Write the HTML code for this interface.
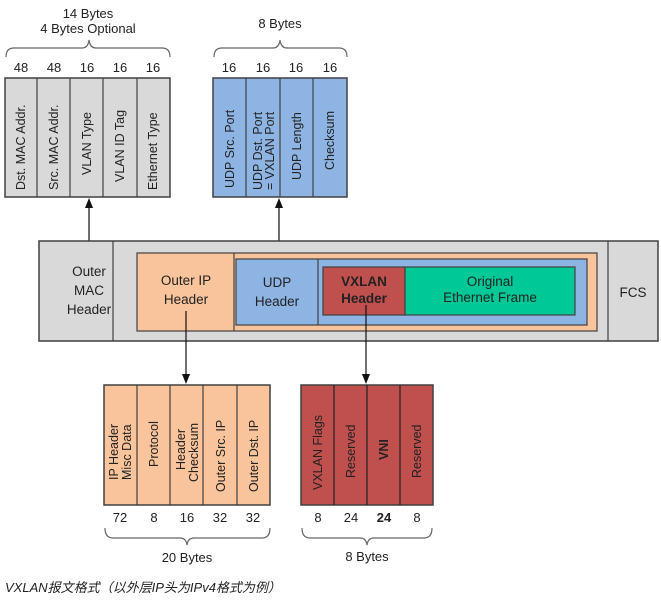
<!DOCTYPE html>
<html><head><meta charset="utf-8"><style>
body{margin:0;background:#fff}
svg{display:block;font-family:"Liberation Sans","Noto Sans CJK SC",sans-serif}
text{fill:#222}
</style></head><body>
<svg width="661" height="600" viewBox="0 0 661 600">

<!-- Top left MAC -->
<g>
<text x="88" y="18" text-anchor="middle" font-size="13">14 Bytes</text>
<text x="88" y="33" text-anchor="middle" font-size="13">4 Bytes Optional</text>
<path d="M6,57 Q6,48 14,48 L82,48 Q88,48 89,40 Q90,48 96,48 L162,48 Q170,48 170,57" fill="none" stroke="#666" stroke-width="1.2"/>
<rect x="5" y="78" width="165" height="119" fill="#d9d9d9" stroke="#404040" stroke-width="1.5"/>
<g stroke="#404040" stroke-width="1.2"><line x1="37" y1="78" x2="37" y2="197"/><line x1="70" y1="78" x2="70" y2="197"/><line x1="103" y1="78" x2="103" y2="197"/><line x1="137" y1="78" x2="137" y2="197"/></g>
<g font-size="13" text-anchor="middle">
<text x="21" y="72">48</text><text x="54" y="72">48</text><text x="87" y="72">16</text><text x="120" y="72">16</text><text x="153" y="72">16</text>
</g>
<g font-size="12.5">
<text transform="translate(25,190) rotate(-90)">Dst. MAC Addr.</text>
<text transform="translate(58,190) rotate(-90)">Src. MAC Addr.</text>
<text transform="translate(91,175) rotate(-90)">VLAN Type</text>
<text transform="translate(124,182) rotate(-90)">VLAN ID Tag</text>
<text transform="translate(157,190) rotate(-90)">Ethernet Type</text>
</g>
</g>

<!-- UDP fields -->
<g>
<text x="280" y="28" text-anchor="middle" font-size="13">8 Bytes</text>
<path d="M214,57 Q214,48 222,48 L273,48 Q279,48 280,40 Q281,48 287,48 L339,48 Q347,48 347,57" fill="none" stroke="#666" stroke-width="1.2"/>
<rect x="213" y="78" width="134" height="119" fill="#8eb4e3" stroke="#404040" stroke-width="1.5"/>
<g stroke="#404040" stroke-width="1.2"><line x1="246" y1="78" x2="246" y2="197"/><line x1="280" y1="78" x2="280" y2="197"/><line x1="313" y1="78" x2="313" y2="197"/></g>
<g font-size="13" text-anchor="middle">
<text x="229" y="72">16</text><text x="263" y="72">16</text><text x="296" y="72">16</text><text x="330" y="72">16</text>
</g>
<g font-size="12.5">
<text transform="translate(234,188) rotate(-90)">UDP Src. Port</text>
<text transform="translate(262,190) rotate(-90)">UDP Dst. Port</text>
<text transform="translate(274,190) rotate(-90)">= VXLAN Port</text>
<text transform="translate(301,180) rotate(-90)">UDP Length</text>
<text transform="translate(334,170) rotate(-90)">Checksum</text>
</g>
</g>

<!-- arrows up -->
<g>
<line x1="89" y1="241" x2="89" y2="206" stroke="#111" stroke-width="1.2"/>
<polygon points="89,198 85,208 93,208" fill="#111"/>
</g>
<g>
<line x1="279" y1="262" x2="279" y2="206" stroke="#111" stroke-width="1.2"/>
<polygon points="279,198 275,208 283,208" fill="#111"/>
</g>

<!-- Main frame -->
<g>
<rect x="39" y="241" width="619" height="100" fill="#d9d9d9" stroke="#404040" stroke-width="1.5"/>
<line x1="113" y1="241" x2="113" y2="341" stroke="#404040" stroke-width="1.2"/>
<line x1="608" y1="241" x2="608" y2="341" stroke="#404040" stroke-width="1.2"/>
<text x="89" y="276" text-anchor="middle" font-size="13.5">Outer</text>
<text x="89" y="295" text-anchor="middle" font-size="13.5">MAC</text>
<text x="89" y="314" text-anchor="middle" font-size="13.5">Header</text>
<text x="633" y="297" text-anchor="middle" font-size="13.5">FCS</text>
<rect x="137" y="253" width="460" height="78" fill="#f9c39b" stroke="#404040" stroke-width="1.2"/>
<line x1="234" y1="253" x2="234" y2="331" stroke="#404040" stroke-width="1.2"/>
<text x="186" y="285" text-anchor="middle" font-size="13.5">Outer IP</text>
<text x="186" y="304" text-anchor="middle" font-size="13.5">Header</text>
<rect x="236" y="259" width="351" height="66" fill="#8eb4e3" stroke="#404040" stroke-width="1.2"/>
<line x1="318" y1="259" x2="318" y2="325" stroke="#404040" stroke-width="1.2"/>
<text x="277" y="287" text-anchor="middle" font-size="13.5">UDP</text>
<text x="277" y="306" text-anchor="middle" font-size="13.5">Header</text>
<rect x="323" y="267" width="82" height="48" fill="#c0504d" stroke="#404040" stroke-width="1.2"/>
<rect x="405" y="267" width="170" height="48" fill="#00c896" stroke="#404040" stroke-width="1.2"/>
<text x="364" y="286" text-anchor="middle" font-size="13.5" font-weight="bold">VXLAN</text>
<text x="364" y="303" text-anchor="middle" font-size="13.5" font-weight="bold">Header</text>
<text x="490" y="286" text-anchor="middle" font-size="13.5">Original</text>
<text x="490" y="302" text-anchor="middle" font-size="13.5">Ethernet Frame</text>
</g>

<!-- arrows down -->
<g>
<line x1="186" y1="311" x2="186" y2="376" stroke="#111" stroke-width="1.2"/>
<polygon points="186,384 182,374 190,374" fill="#111"/>
</g>
<g>
<line x1="366" y1="305" x2="366" y2="376" stroke="#111" stroke-width="1.2"/>
<polygon points="366,384 362,374 370,374" fill="#111"/>
</g>

<!-- IP fields -->
<g>
<rect x="104" y="385" width="166" height="120" fill="#f9c39b" stroke="#404040" stroke-width="1.5"/>
<g stroke="#404040" stroke-width="1.2"><line x1="137" y1="385" x2="137" y2="505"/><line x1="170" y1="385" x2="170" y2="505"/><line x1="203" y1="385" x2="203" y2="505"/><line x1="237" y1="385" x2="237" y2="505"/></g>
<g font-size="12.5">
<text transform="translate(118,480) rotate(-90)">IP Header</text>
<text transform="translate(131,480) rotate(-90)">Misc Data</text>
<text transform="translate(158,467) rotate(-90)">Protocol</text>
<text transform="translate(185,470) rotate(-90)">Header</text>
<text transform="translate(198,482) rotate(-90)">Checksum</text>
<text transform="translate(225,492) rotate(-90)">Outer Src. IP</text>
<text transform="translate(258,492) rotate(-90)">Outer Dst. IP</text>
</g>
<g font-size="13" text-anchor="middle">
<text x="120" y="522">72</text><text x="154" y="522">8</text><text x="187" y="522">16</text><text x="220" y="522">32</text><text x="253" y="522">32</text>
</g>
<path d="M105,528 Q105,538 113,538 L180,538 Q186,538 187,545 Q188,538 194,538 L262,538 Q270,538 270,528" fill="none" stroke="#666" stroke-width="1.2"/>
<text x="187" y="562" text-anchor="middle" font-size="13">20 Bytes</text>
</g>

<!-- VXLAN fields -->
<g>
<rect x="301" y="385" width="132" height="120" fill="#c0504d" stroke="#404040" stroke-width="1.5"/>
<g stroke="#222" stroke-width="1.2"><line x1="334" y1="385" x2="334" y2="505"/><line x1="367" y1="385" x2="367" y2="505"/><line x1="400" y1="385" x2="400" y2="505"/></g>
<g font-size="12.5">
<text transform="translate(322,490) rotate(-90)">VXLAN Flags</text>
<text transform="translate(355,478) rotate(-90)">Reserved</text>
<text transform="translate(388,460) rotate(-90)" font-weight="bold">VNI</text>
<text transform="translate(421,478) rotate(-90)">Reserved</text>
</g>
<g font-size="13" text-anchor="middle">
<text x="318" y="522">8</text><text x="351" y="522">24</text><text x="384" y="522" font-weight="bold">24</text><text x="417" y="522">8</text>
</g>
<path d="M302,528 Q302,538 310,538 L360,538 Q366,538 367,545 Q368,538 374,538 L424,538 Q432,538 432,528" fill="none" stroke="#666" stroke-width="1.2"/>
<text x="367" y="561" text-anchor="middle" font-size="13">8 Bytes</text>
</g>

<text x="5" y="592" font-size="13" font-style="italic" fill="#333">VXLAN报文格式（以外层IP头为IPv4格式为例）</text>
</svg>
</body></html>
